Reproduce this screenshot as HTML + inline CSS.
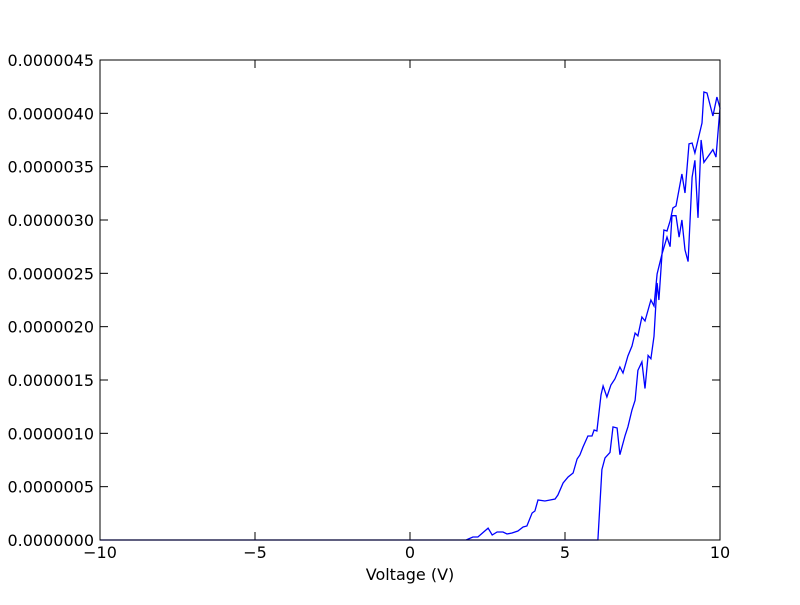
<!DOCTYPE html>
<html><head><meta charset="utf-8"><style>
body{margin:0;background:#fff;width:800px;height:600px;overflow:hidden}
svg text{font-family:"DejaVu Sans","Liberation Sans",sans-serif;font-size:16px;fill:#000}
</style></head><body>
<svg id="chart" width="800" height="600" xmlns="http://www.w3.org/2000/svg">
<rect x="0" y="0" width="800" height="600" fill="#fff"/>
<g id="ticks"></g>
<path id="curve" fill="none" stroke="#0000ff" stroke-width="1.3"/>
<rect x="100" y="60" width="620" height="480" fill="none" stroke="#000" stroke-width="1"/>
<text x="410" y="580" text-anchor="middle">Voltage (V)</text>
</svg>
<script>
const xTicks=[-10,-5,0,5,10];
const yTicks=[0,0.5,1,1.5,2,2.5,3,3.5,4,4.5];
const yTickLabels=["0.0000000","0.0000005","0.0000010","0.0000015","0.0000020","0.0000025","0.0000030","0.0000035","0.0000040","0.0000045"];
// forward sweep then return sweep; current in microamps
const voltage=[-10,1.81,2.03,2.19,2.52,2.65,2.81,3.00,3.13,3.29,3.48,3.65,3.77,3.94,4.03,4.13,4.35,4.52,4.68,4.77,4.94,5.10,5.26,5.39,5.48,5.58,5.74,5.87,5.94,6.03,6.16,6.23,6.35,6.48,6.61,6.77,6.87,7.03,7.16,7.26,7.35,7.48,7.58,7.77,7.87,7.97,8.13,8.19,8.29,8.39,8.48,8.58,8.77,8.87,9.00,9.10,9.19,9.42,9.48,9.58,9.77,9.90,10.0,
 9.87,9.77,9.48,9.39,9.29,9.19,9.10,8.97,8.87,8.77,8.68,8.58,8.45,8.39,8.29,8.13,8.03,7.97,7.87,7.77,7.68,7.58,7.48,7.35,7.26,7.16,7.03,6.94,6.77,6.68,6.55,6.45,6.29,6.19,6.06,-10];
const current=[0,0,0.028,0.028,0.112,0.047,0.075,0.075,0.056,0.066,0.084,0.122,0.131,0.253,0.272,0.375,0.366,0.375,0.384,0.422,0.534,0.591,0.628,0.759,0.797,0.872,0.975,0.975,1.031,1.022,1.359,1.444,1.341,1.453,1.509,1.622,1.566,1.725,1.819,1.941,1.913,2.091,2.053,2.25,2.194,2.494,2.681,2.906,2.897,2.991,3.113,3.131,3.431,3.253,3.713,3.722,3.628,3.909,4.2,4.191,3.975,4.153,4.05,
 3.59,3.66,3.54,3.75,3.02,3.56,3.40,2.61,2.72,3.00,2.84,3.04,3.04,2.75,2.84,2.68,2.25,2.41,1.91,1.70,1.73,1.42,1.67,1.59,1.31,1.22,1.06,0.98,0.80,1.05,1.06,0.82,0.77,0.66,0,0];
const X=v=>100+(v+10)/20*620;
const Y=c=>540-c/4.5*480;
const NS="http://www.w3.org/2000/svg";
const g=document.getElementById('ticks');
function line(x1,y1,x2,y2){const l=document.createElementNS(NS,'line');l.setAttribute('x1',x1);l.setAttribute('y1',y1);l.setAttribute('x2',x2);l.setAttribute('y2',y2);l.setAttribute('stroke','#000');g.appendChild(l);return l;}
xTicks.forEach(t=>{const x=X(t);
 const a=line(x,540,x,532);
 
 
 line(x,60,x,68);
 const tx=document.createElementNS(NS,'text');tx.setAttribute('x',x);tx.setAttribute('y',558);tx.setAttribute('text-anchor','middle');tx.textContent=String(t).replace('-','\u2212');
 
 
 g.appendChild(tx);});
yTicks.forEach((t,i)=>{const y=Y(t);
 const a=line(100,y,108,y);
 
 
 line(720,y,712,y);
 const tx=document.createElementNS(NS,'text');tx.setAttribute('x',94);tx.setAttribute('y',y+6);tx.setAttribute('text-anchor','end');tx.textContent=yTickLabels[i];
 
 
 g.appendChild(tx);});
document.getElementById('curve').setAttribute('d',voltage.map((v,i)=>(i?'L':'M')+X(v).toFixed(1)+','+Y(current[i]).toFixed(1)).join(''));
</script>
</body></html>
